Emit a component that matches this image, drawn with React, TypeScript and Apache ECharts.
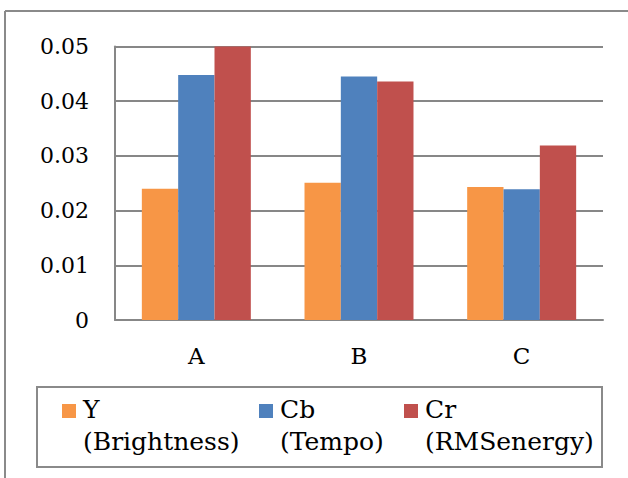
import React, { useEffect, useRef } from "react";
import * as echarts from "echarts";

const categories = ["A", "B", "C"];
const seriesNames = ["Y\n(Brightness)", "Cb\n(Tempo)", "Cr\n(RMSenergy)"];
const seriesColors = ["#F79646", "#4F81BD", "#C0504D"];
const yValues = [0.024, 0.0251, 0.0243];
const cbValues = [0.0448, 0.0445, 0.0239];
const crValues = [0.05, 0.0436, 0.0319];
const yTicks = [0, 0.01, 0.02, 0.03, 0.04, 0.05];

const FONT = "'DejaVu Serif', serif";

export default function App() {
  const ref = useRef<HTMLDivElement>(null);
  useEffect(() => {
    if (!ref.current) return;
    const chart = echarts.init(ref.current, undefined, { renderer: "svg" });
    const dataSets = [yValues, cbValues, crValues];
    const legendX = [62, 259, 404];
    const legendGraphics: any[] = [];
    seriesNames.forEach((name, i) => {
      legendGraphics.push({
        type: "rect",
        shape: { x: legendX[i], y: 404, width: 14, height: 14 },
        style: { fill: seriesColors[i] },
      });
      legendGraphics.push({
        type: "text",
        x: legendX[i] + 21,
        y: 393,
        style: {
          text: name,
          font: `25px ${FONT}`,
          fill: "#000",
          lineHeight: 32,
          verticalAlign: "top",
          align: "left",
        },
      });
    });
    chart.setOption({
      animation: false,
      backgroundColor: "#fff",
      grid: { left: 115, right: 25, top: 46.5, bottom: 158, containLabel: false },
      xAxis: {
        type: "category",
        data: categories,
        axisLine: { show: true, lineStyle: { color: "#878787", width: 2 } },
        axisTick: { show: false },
        axisLabel: { color: "#000", fontFamily: FONT, fontSize: 23, margin: 24 },
      },
      yAxis: {
        type: "value",
        min: 0,
        max: 0.05,
        interval: 0.01,
        axisLine: { show: true, lineStyle: { color: "#878787", width: 2 } },
        axisTick: { show: false },
        splitLine: { show: true, lineStyle: { color: "#878787", width: 2 } },
        axisLabel: {
          color: "#000",
          fontFamily: FONT,
          fontSize: 22,
          margin: 26,
          formatter: (v: number) => {
            const t = yTicks.find((x) => Math.abs(x - v) < 1e-9);
            return t === 0 ? "0" : (t ?? v).toFixed(2);
          },
        },
      },
      series: seriesNames.map((name, i) => ({
        type: "bar",
        name,
        data: dataSets[i],
        barGap: "0%",
        barCategoryGap: "33%",
        itemStyle: { color: seriesColors[i] },
      })),
      graphic: [
        {
          type: "line",
          shape: { x1: 5, y1: 11, x2: 628, y2: 11 },
          style: { stroke: "#8a8a8a", lineWidth: 2 },
        },
        {
          type: "line",
          shape: { x1: 5, y1: 11, x2: 5, y2: 478 },
          style: { stroke: "#8a8a8a", lineWidth: 2 },
        },
        {
          type: "rect",
          shape: { x: 37, y: 387, width: 565, height: 80 },
          style: { fill: "#fff", stroke: "#8a8a8a", lineWidth: 2 },
        },
        ...legendGraphics,
      ],
    });
    return () => chart.dispose();
  }, []);
  return (
    <div
      ref={ref}
      style={{ position: "fixed", left: 0, top: 0, width: 628, height: 478 }}
    />
  );
}
